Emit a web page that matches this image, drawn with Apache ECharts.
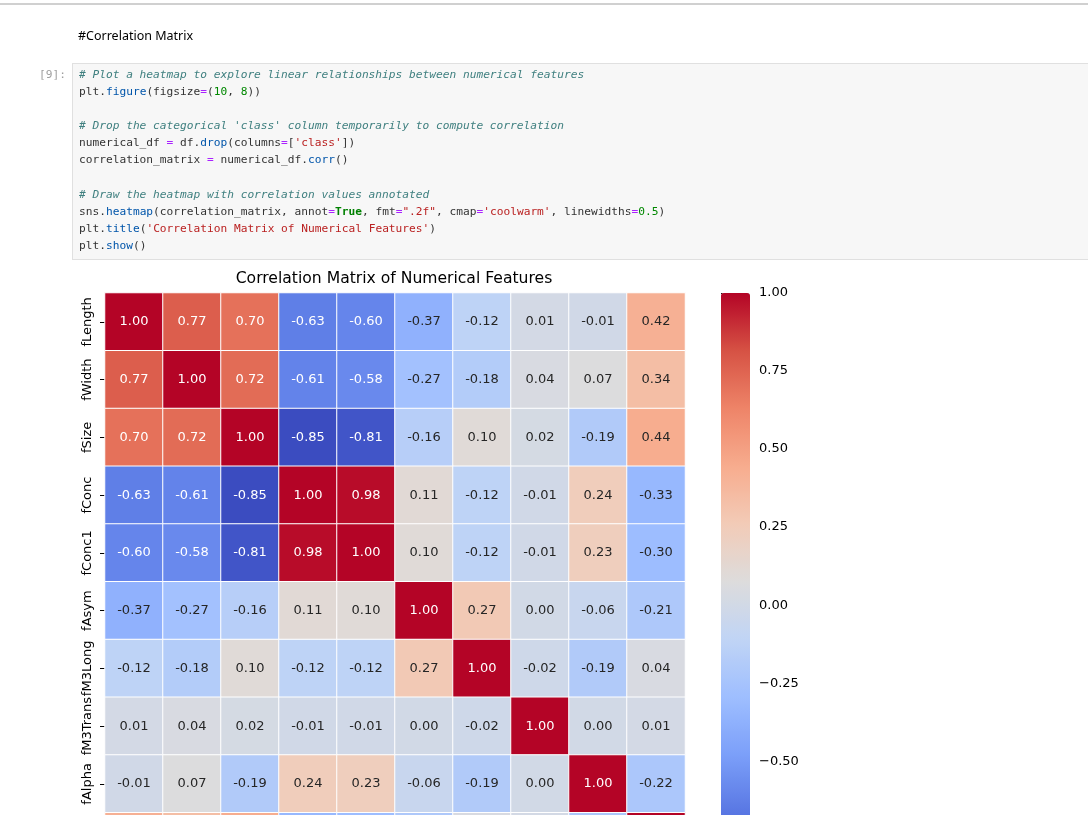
<!DOCTYPE html>
<html>
<head>
<meta charset="utf-8">
<script src="https://cdn.jsdelivr.net/npm/echarts@6/dist/echarts.min.js"></script>
<style>
  html, body { margin:0; padding:0; background:#fff; }
  body { width:1088px; height:815px; overflow:hidden; position:relative; }
  #chart { position:absolute; left:0; top:0; width:1088px; height:815px; z-index:1; }
  .topline { position:absolute; left:0; top:3px; width:1088px; height:2px; background:#d0d0d0; z-index:2; }
  .md { position:absolute; left:78px; top:27px; font-family:"Noto Sans", sans-serif; font-size:12.5px; color:#000; z-index:2; }
  .prompt { position:absolute; left:39px; top:66px; font-family:"DejaVu Sans Mono", monospace; font-size:11.2px; line-height:17px; color:#9e9e9e; z-index:2; }
  .cell { position:absolute; left:72px; top:63px; width:1030px; height:195px; background:#f7f7f7; border:1px solid #e0e0e0; z-index:2; }
  pre.code { position:absolute; left:79px; top:66px; margin:0; font-family:"DejaVu Sans Mono", monospace; font-size:11.2px; line-height:17.1px; color:#333; z-index:3; }
  .c { color:#408080; font-style:italic; }
  .p { color:#0055aa; }
  .o { color:#aa22ff; }
  .n { color:#008800; }
  .s { color:#ba2121; }
  .k { color:#008000; font-weight:bold; }
</style>
</head>
<body>
<div class="topline"></div>
<div class="md">#Correlation Matrix</div>
<div class="prompt">[9]:</div>
<div class="cell"></div>
<pre class="code"><span class="c"># Plot a heatmap to explore linear relationships between numerical features</span>
plt.<span class="p">figure</span>(figsize<span class="o">=</span>(<span class="n">10</span>, <span class="n">8</span>))

<span class="c"># Drop the categorical 'class' column temporarily to compute correlation</span>
numerical_df <span class="o">=</span> df.<span class="p">drop</span>(columns<span class="o">=</span>[<span class="s">'class'</span>])
correlation_matrix <span class="o">=</span> numerical_df.<span class="p">corr</span>()

<span class="c"># Draw the heatmap with correlation values annotated</span>
sns.<span class="p">heatmap</span>(correlation_matrix, annot<span class="o">=</span><span class="k">True</span>, fmt<span class="o">=</span><span class="s">".2f"</span>, cmap<span class="o">=</span><span class="s">'coolwarm'</span>, linewidths<span class="o">=</span><span class="n">0.5</span>)
plt.<span class="p">title</span>(<span class="s">'Correlation Matrix of Numerical Features'</span>)
plt.<span class="p">show</span>()</pre>
<div id="chart"></div>
<script>
const features = ['fLength','fWidth','fSize','fConc','fConc1','fAsym','fM3Long','fM3Trans','fAlpha','fDist'];
const rowFLength  = [1.00, 0.77, 0.70, -0.63, -0.60, -0.37, -0.12, 0.01, -0.01, 0.42];
const rowFWidth   = [0.77, 1.00, 0.72, -0.61, -0.58, -0.27, -0.18, 0.04, 0.07, 0.34];
const rowFSize    = [0.70, 0.72, 1.00, -0.85, -0.81, -0.16, 0.10, 0.02, -0.19, 0.44];
const rowFConc    = [-0.63, -0.61, -0.85, 1.00, 0.98, 0.11, -0.12, -0.01, 0.24, -0.33];
const rowFConc1   = [-0.60, -0.58, -0.81, 0.98, 1.00, 0.10, -0.12, -0.01, 0.23, -0.30];
const rowFAsym    = [-0.37, -0.27, -0.16, 0.11, 0.10, 1.00, 0.27, 0.00, -0.06, -0.21];
const rowFM3Long  = [-0.12, -0.18, 0.10, -0.12, -0.12, 0.27, 1.00, -0.02, -0.19, 0.04];
const rowFM3Trans = [0.01, 0.04, 0.02, -0.01, -0.01, 0.00, -0.02, 1.00, 0.00, 0.01];
const rowFAlpha   = [-0.01, 0.07, -0.19, 0.24, 0.23, -0.06, -0.19, 0.00, 1.00, -0.22];
const rowFDist    = [0.42, 0.34, 0.44, -0.33, -0.30, -0.21, 0.04, 0.01, -0.22, 1.00];
const colorbarTicks = [1.00, 0.75, 0.50, 0.25, 0.00, -0.25, -0.50, -0.75];
const scaleMin = -0.85, scaleMax = 1.00;

const rows = [rowFLength, rowFWidth, rowFSize, rowFConc, rowFConc1, rowFAsym, rowFM3Long, rowFM3Trans, rowFAlpha, rowFDist];
const coolwarm = ['#3b4cc0','#5977e3','#7b9ff9','#9ebeff','#c0d4f5','#dddcdc','#f2cbb7','#f7ac8e','#ee8468','#d65244','#b40426'];

const data = [];
rows.forEach((row, r) => row.forEach((v, c) => {
  data.push({ value: [c, r, v], label: { color: (v >= 0.5 || v <= -0.5) ? '#ffffff' : '#262626' } });
}));

const cellH = 57.75, gridH = cellH * features.length;
const chart = echarts.init(document.getElementById('chart'));
chart.setOption({
  animation: false,
  textStyle: { fontFamily: 'DejaVu Sans' },
  graphic: [{
    type: 'text', x: 394, y: 279,
    style: { text: 'Correlation Matrix of Numerical Features', font: '15.6px "DejaVu Sans"', fill: '#000', textAlign: 'center', textVerticalAlign: 'middle' }
  }],
  grid: [
    { left: 105, top: 293, width: 580, height: gridH, outerBoundsMode: 'none', containLabel: false },
    { left: 721, top: 293, width: 29, height: gridH, outerBoundsMode: 'none', containLabel: false }
  ],
  xAxis: [
    { gridIndex: 0, type: 'category', data: features, position: 'bottom',
      axisLine: { show: false }, splitLine: { show: false },
      axisTick: { show: true, length: 5, alignWithLabel: true, interval: 0, lineStyle: { color: '#000' } },
      axisLabel: { rotate: 90, fontSize: 13, color: '#000', margin: 10, interval: 0 } },
    { gridIndex: 1, type: 'value', show: false }
  ],
  yAxis: [
    { gridIndex: 0, type: 'category', data: features, inverse: true,
      axisLine: { show: false }, splitLine: { show: false },
      axisTick: { show: true, length: 5, alignWithLabel: true, interval: 0, lineStyle: { color: '#000' } },
      axisLabel: { rotate: 90, fontSize: 13, color: '#000', margin: 11, interval: 0 } },
    { gridIndex: 1, type: 'value', position: 'right', min: scaleMin, max: scaleMax,
      axisLine: { show: false }, splitLine: { show: false },
      axisTick: { show: true, length: 4, customValues: colorbarTicks, lineStyle: { color: '#000' } },
      axisLabel: { fontSize: 13, color: '#000', margin: 9, customValues: colorbarTicks,
        formatter: v => (v < 0 ? '\u2212' : '') + Math.abs(v).toFixed(2) } }
  ],
  visualMap: {
    type: 'continuous', seriesIndex: 0, min: scaleMin, max: scaleMax,
    calculable: false, show: true, orient: 'vertical',
    left: 721, top: 293, itemWidth: 29, itemHeight: gridH, padding: 0,
    text: null, showLabel: false,
    inRange: { color: coolwarm }
  },
  series: [
    { type: 'heatmap', xAxisIndex: 0, yAxisIndex: 0, data: data,
      itemStyle: { borderColor: '#ffffff', borderWidth: 1 },
      label: { show: true, fontSize: 13, fontFamily: 'DejaVu Sans', formatter: p => p.value[2].toFixed(2) },
      emphasis: { disabled: true } },
    { type: 'line', xAxisIndex: 1, yAxisIndex: 1, data: [] }
  ]
});
</script>
</body>
</html>
